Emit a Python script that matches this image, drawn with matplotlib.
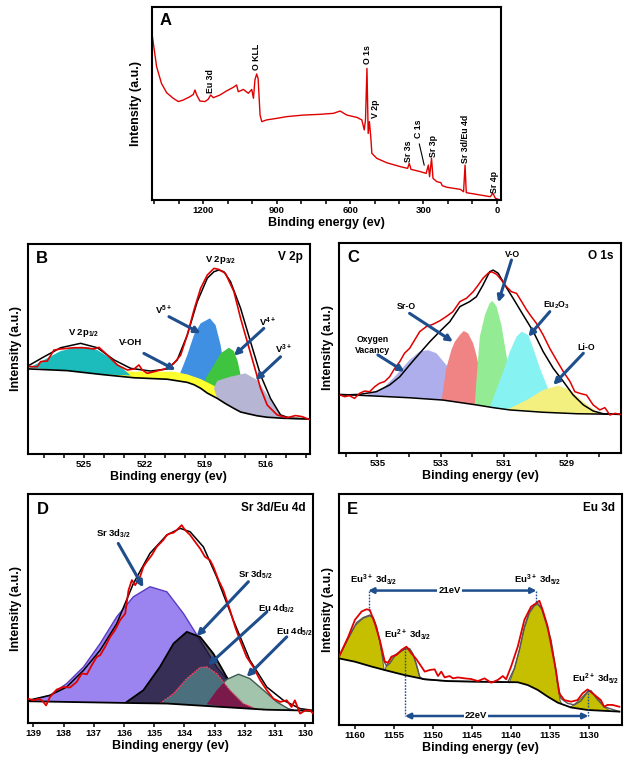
import matplotlib
matplotlib.use('Agg')
import matplotlib.pyplot as plt
from matplotlib.patches import Polygon
from matplotlib.ticker import FixedLocator, MultipleLocator, NullLocator

plt.rcParams.update({
    'font.family': ['Liberation Sans', 'DejaVu Sans'],
    'font.weight': 'bold',
    'axes.labelweight': 'bold',
    'mathtext.fontset': 'custom',
    'mathtext.rm': 'Liberation Sans:bold',
    'mathtext.it': 'Liberation Sans:bold',
    'mathtext.bf': 'Liberation Sans:bold',
    'mathtext.default': 'rm',
})

RED = '#e00000'
ARROW = '#1f4e8c'

# ---------------- Panel A: survey ----------------
survey_be = [1409, 1391, 1371, 1350, 1323, 1302, 1282, 1255, 1241, 1234, 1227, 1214, 1193, 1180,
             1170, 1159, 1132, 1104, 1077, 1064, 1057, 1036, 1016, 1002, 995, 989, 982, 976, 968,
             961, 941, 900, 859, 791, 722, 668, 641, 613, 572, 552, 542, 537, 531, 526, 521, 515,
             511, 491, 450, 395, 365, 358, 351, 313, 289, 280, 275, 267, 261, 245, 229, 223, 204,
             149, 136, 130, 125, 68, 27, 16, 6, -7]
survey_int = [85.5, 69.1, 60.4, 55.6, 52.7, 51.0, 51.8, 53.5, 54.7, 57.0, 54.4, 51.3, 51.0, 52.2,
              54.4, 53.0, 54.4, 56.6, 58.4, 59.6, 56.1, 57.3, 55.3, 57.3, 52.7, 62.2, 65.3, 63.0, 44.0,
              40.6, 41.5, 42.3, 43.2, 44.0, 44.4, 44.9, 46.1, 44.0, 42.8, 41.5, 36.3, 41.5, 68.2, 34.5,
              40.6, 32.0, 24.2, 21.6, 19.3, 17.3, 16.4, 19.0, 15.9, 14.7, 13.8, 18.1, 12.1, 21.6, 11.2,
              9.5, 9.0, 7.4, 6.6, 5.5, 4.3, 18.1, 3.8, 2.6, 1.7, 3.5, 0.9, 0.3]
survey_labels = ['Eu 3d', 'O KLL', 'O 1s', 'V 2p', 'Sr 3s', 'C 1s', 'Sr 3p', 'Sr 3d/Eu 4d', 'Sr 4p']
survey_label_be = [1170, 984, 530, 497, 361, 320, 259, 129, 10]
survey_label_int = [55.6, 67.4, 70.5, 42.3, 19.9, 32.0, 22.5, 19.0, 3.8]

# ---------------- Panel B: V 2p ----------------
B_bg_x = [527.69, 525.83, 524.17, 522.52, 520.87, 519.88, 519.55, 519.22, 518.89, 518.40, 517.99,
          517.57, 517.24, 516.75, 516.42, 515.92, 515.10, 513.78]
B_bg_y = [40.5, 39.7, 37.9, 36.3, 35.6, 34.1, 33.0, 31.3, 29.0, 26.5, 24.0, 21.7, 20.0, 18.9, 18.2,
          17.5, 17.0, 16.7]
B_cyan_x = [527.69, 526.98, 526.16, 525.5, 525.17, 524.8, 524.34, 523.68, 523.18, 522.69]
B_cyan_y = [41.1, 44.8, 49.0, 50.6, 51.1, 50.8, 49.5, 45.6, 41.6, 37.4]
B_blue_x = [520.38, 520.21, 519.88, 519.55, 519.22, 518.76, 518.48, 518.23, 518.07, 517.57]
B_blue_y = [35.4, 39.0, 47.1, 56.7, 62.2, 64.6, 61.4, 51.9, 42.4, 21.8]
B_green_x = [519.05, 518.98, 518.56, 518.23, 517.82, 517.57, 517.38, 517.24, 517.10, 516.91]
B_green_y = [29.9, 36.0, 42.4, 47.9, 50.6, 49.0, 44.0, 37.6, 30.0, 18.9]
B_yellow_x = [527.69, 525.83, 524.17, 522.52, 521.20, 520.54, 519.88, 519.22, 518.56, 518.23, 517.90]
B_yellow_y = [41.4, 40.8, 39.8, 39.2, 39.2, 39.2, 37.9, 35.7, 32.5, 31.0, 24.6]
B_lav_x = [518.56, 518.40, 517.74, 517.00, 516.42, 515.92, 515.43, 515.10, 514.77]
B_lav_y = [31.3, 34.8, 36.8, 38.4, 35.2, 28.1, 21.0, 17.8, 17.0]
B_env_x = [527.69, 526.98, 526.16, 525.17, 524.34, 523.51, 522.69, 521.70, 520.87, 520.38, 519.88,
           519.39, 518.89, 518.56, 518.32, 518.07, 517.74, 517.24, 516.75, 516.25, 515.76, 515.26,
           514.77, 513.78]
B_env_y = [42.4, 46.3, 50.6, 52.7, 50.6, 44.8, 40.8, 39.5, 40.5, 44.8, 56.7, 72.5, 83.7, 86.8, 87.6,
           86.8, 82.1, 69.4, 53.5, 37.6, 26.5, 18.6, 17.0, 16.7]
B_raw_x = [527.69, 527.31, 527.15, 526.82, 526.49, 526.16, 525.83, 525.50, 525.00, 524.50, 524.26,
           523.84, 523.35, 522.85, 522.52, 522.28, 522.11, 521.86, 521.53, 521.20, 520.87, 520.54,
           520.21, 519.88, 519.55, 519.22, 518.89, 518.56, 518.32, 517.99, 517.57, 517.24, 516.91,
           516.58, 516.25, 515.92, 515.43, 514.93, 514.52, 514.19, 513.78]
B_raw_y = [41.6, 41.6, 44.0, 44.3, 49.5, 50.0, 50.3, 50.6, 50.6, 50.0, 50.8, 47.1, 42.4, 40.0, 40.5,
           42.4, 40.0, 38.4, 39.2, 40.0, 40.8, 43.2, 47.1, 56.7, 68.6, 78.9, 85.2, 88.4, 87.9, 86.0,
           77.3, 64.6, 53.5, 42.4, 31.3, 23.3, 18.6, 17.3, 18.3, 17.8, 16.2]

# ---------------- Panel C: O 1s ----------------
C_bg_x = [536.17, 535.03, 533.98, 532.92, 531.87, 531.34, 530.81, 529.76, 528.70, 527.33]
C_bg_y = [27.9, 27.1, 26.3, 25.2, 22.9, 21.6, 20.5, 19.4, 18.7, 18.4]
C_raw_x = [536.17, 536.03, 535.88, 535.72, 535.56, 535.40, 535.24, 535.08, 534.93, 534.77, 534.61,
           534.45, 534.29, 534.14, 533.98, 533.82, 533.66, 533.45, 533.24, 533.03, 532.82, 532.61,
           532.39, 532.18, 531.97, 531.81, 531.66, 531.50, 531.39, 531.23, 531.08, 530.92, 530.76,
           530.60, 530.44, 530.28, 530.13, 529.97, 529.76, 529.55, 529.34, 529.12, 528.91, 528.76,
           528.60, 528.39, 528.18, 527.97, 527.81, 527.65, 527.49, 527.33]
C_raw_y = [27.6, 26.8, 27.3, 26.0, 28.4, 29.5, 29.2, 31.6, 33.2, 34.0, 36.3, 40.3, 43.5, 47.5, 49.8,
           53.8, 57.8, 60.2, 61.3, 62.9, 65.0, 67.3, 72.1, 73.7, 76.8, 80.0, 83.2, 85.6, 86.3, 85.1,
           82.4, 79.2, 76.8, 76.0, 72.1, 68.1, 64.9, 61.7, 56.2, 49.8, 44.3, 38.7, 34.0, 29.2, 28.4,
           27.6, 22.9, 20.5, 21.6, 18.1, 18.9, 18.4]
C_env_x = [536.17, 535.56, 535.03, 534.61, 534.29, 533.98, 533.66, 533.34, 533.03, 532.71, 532.39,
           532.08, 531.87, 531.66, 531.45, 531.34, 531.18, 530.97, 530.71, 530.39, 530.07, 529.76,
           529.44, 529.12, 528.81, 528.49, 528.18, 527.86, 527.33]
C_env_y = [27.6, 27.9, 29.2, 32.4, 36.3, 41.9, 47.5, 53.0, 57.8, 62.5, 69.7, 72.1, 74.4, 80.0, 86.3,
           87.1, 85.6, 80.0, 73.7, 65.7, 57.8, 48.3, 40.3, 34.0, 27.6, 22.9, 20.0, 18.7, 18.4]
C_lav_x = [535.35, 534.82, 534.40, 533.98, 533.66, 533.40, 533.13, 532.82, 532.39, 531.87, 531.45,
           531.13, 530.92]
C_lav_y = [27.6, 30.8, 37.1, 44.3, 48.3, 49.0, 47.5, 41.9, 35.6, 29.2, 25.2, 22.9, 21.0]
C_sal_x = [532.97, 532.82, 532.66, 532.55, 532.39, 532.27, 532.13, 531.97, 531.87, 531.76, 531.55,
           531.23, 530.81, 530.39]
C_sal_y = [25.0, 40.3, 49.0, 53.0, 56.2, 58.1, 57.0, 52.2, 46.7, 38.7, 30.8, 24.4, 21.3, 20.1]
C_grn_x = [531.92, 531.87, 531.76, 531.60, 531.45, 531.36, 531.23, 531.08, 530.92, 530.81, 530.71,
           530.50]
C_grn_y = [23.0, 34.0, 55.4, 65.7, 71.3, 72.4, 69.7, 61.0, 46.7, 37.1, 29.2, 20.3]
C_cyan_x = [531.45, 531.34, 531.02, 530.81, 530.60, 530.44, 530.23, 530.07, 529.86, 529.65, 529.44,
            529.23]
C_cyan_y = [22.0, 26.0, 38.7, 48.3, 55.4, 57.8, 56.2, 49.8, 40.3, 32.4, 24.4, 19.6]
C_yel_x = [530.90, 530.81, 530.28, 529.76, 529.28, 528.91, 528.49, 528.07, 527.86]
C_yel_y = [20.8, 21.3, 25.2, 30.0, 32.1, 30.0, 24.4, 19.7, 18.7]

# ---------------- Panel D: Sr 3d / Eu 4d ----------------
D_bg_x = [139.17, 137.90, 135.69, 134.58, 133.48, 132.38, 131.27, 130.17, 129.73]
D_bg_y = [9.5, 9.2, 8.7, 8.5, 7.6, 6.7, 5.8, 5.5, 5.2]
D_raw_x = [139.17, 139.00, 138.83, 138.72, 138.58, 138.45, 138.23, 138.01, 137.79, 137.57, 137.40,
           137.23, 137.07, 136.90, 136.79, 136.63, 136.46, 136.30, 136.13, 135.96, 135.85, 135.74,
           135.63, 135.47, 135.36, 135.25, 135.08, 134.92, 134.70, 134.58, 134.47, 134.36, 134.25,
           134.09, 133.98, 133.81, 133.65, 133.48, 133.32, 133.15, 133.04, 132.87, 132.71, 132.49,
           132.32, 132.16, 131.94, 131.72, 131.49, 131.27, 131.05, 130.83, 130.61, 130.45, 130.34,
           130.17, 130.00, 129.84, 129.73]
D_raw_y = [10.6, 9.9, 10.5, 9.9, 7.7, 11.4, 14.6, 15.7, 15.5, 17.9, 21.6, 21.3, 25.2, 28.9, 29.6,
           33.2, 37.6, 40.5, 44.9, 47.8, 58.0, 62.4, 60.2, 63.8, 68.2, 70.4, 73.3, 76.9, 79.9, 82.1,
           82.8, 83.1, 84.3, 86.4, 84.3, 82.1, 79.2, 76.2, 72.6, 71.1, 68.2, 62.4, 58.0, 49.3, 42.0,
           36.2, 28.9, 24.5, 18.7, 14.3, 10.6, 9.2, 9.9, 7.0, 9.9, 4.1, 5.5, 5.5, 4.1]
D_env_x = [139.17, 138.45, 137.90, 137.34, 136.79, 136.24, 135.69, 135.14, 134.58, 134.14, 133.81,
           133.37, 132.93, 132.38, 131.83, 131.27, 130.72, 130.17, 129.73]
D_env_y = [9.9, 12.1, 15.7, 23.0, 31.8, 43.4, 60.9, 74.1, 82.1, 85.0, 83.5, 76.9, 63.8, 44.9, 27.4,
           15.7, 9.9, 6.3, 5.5]
D_sr32_x = [139.17, 138.45, 137.90, 137.34, 136.79, 136.24, 135.69, 135.14, 134.58, 134.03, 133.48,
            132.93, 132.38, 131.83, 131.27, 130.72, 130.40]
D_sr32_y = [9.6, 12.1, 17.2, 24.5, 34.7, 46.4, 55.1, 59.5, 57.3, 47.8, 36.2, 24.5, 15.7, 10.6, 8.2,
            6.7, 5.7]
D_sr52_x = [135.91, 135.36, 134.81, 134.36, 133.92, 133.48, 133.04, 132.60, 132.16, 131.72, 131.38]
D_sr52_y = [9.2, 14.3, 24.5, 34.7, 39.8, 37.6, 30.3, 20.1, 11.4, 7.0, 6.0]
D_eu32_x = [134.81, 134.36, 133.92, 133.48, 133.26, 132.93, 132.49, 132.05, 131.60]
D_eu32_y = [8.5, 12.8, 19.4, 24.2, 24.5, 21.6, 14.3, 8.5, 6.0]
D_eu52_x = [133.26, 132.93, 132.60, 132.21, 131.83, 131.38, 130.94, 130.50]
D_eu52_y = [8.2, 14.3, 19.0, 21.3, 19.4, 14.3, 9.2, 5.8]

# ---------------- Panel E: Eu 3d ----------------
E_bg_x = [1162.13, 1160.00, 1157.87, 1155.74, 1153.62, 1151.06, 1148.09, 1145.11, 1139.15, 1137.87,
          1136.60, 1135.32, 1134.04, 1132.34, 1130.21, 1126.13]
E_bg_y = [28.9, 27.4, 25.3, 23.4, 21.6, 19.8, 19.0, 18.8, 18.5, 17.3, 15.2, 12.3, 9.7, 7.6, 6.5, 5.8]
E_raw_x = [1162.13, 1160.85, 1160.00, 1159.15, 1158.51, 1158.09, 1157.45, 1156.81, 1156.17, 1155.74,
           1155.32, 1154.68, 1154.04, 1153.40, 1152.77, 1152.13, 1151.49, 1151.06, 1150.43, 1149.79,
           1149.36, 1148.94, 1148.51, 1147.87, 1147.45, 1146.81, 1145.96, 1145.11, 1144.26, 1143.40,
           1142.55, 1141.70, 1141.06, 1140.64, 1140.00, 1139.15, 1138.30, 1137.45, 1136.81, 1136.38,
           1135.96, 1135.32, 1134.68, 1134.26, 1133.83, 1133.19, 1132.34, 1131.49, 1130.85, 1130.21,
           1129.57, 1128.51, 1128.09, 1127.66, 1127.02, 1126.13]
E_raw_y = [28.9, 38.2, 45.5, 49.1, 50.1, 49.8, 44.0, 36.8, 27.4, 27.0, 29.6, 30.3, 32.5, 33.9, 31.0,
           28.5, 25.3, 23.1, 23.8, 24.1, 21.2, 23.1, 20.6, 21.2, 20.2, 20.6, 20.2, 19.9, 19.0, 20.2,
           18.3, 19.5, 21.2, 19.8, 25.3, 33.9, 45.5, 51.2, 52.7, 53.8, 49.8, 42.6, 31.0, 23.8, 13.7,
           10.8, 10.1, 10.8, 13.7, 15.4, 13.7, 10.8, 7.9, 8.7, 8.7, 7.9]
E_env_x = [1162.13, 1160.85, 1159.79, 1158.94, 1158.09, 1157.66, 1157.23, 1156.81, 1156.38, 1155.96,
           1155.53, 1154.89, 1154.04, 1153.40, 1152.98, 1152.55, 1152.13, 1151.70, 1151.28, 1148.09,
           1145.11, 1140.43, 1139.57, 1138.94, 1138.30, 1137.66, 1137.02, 1136.60, 1136.09, 1135.53,
           1134.89, 1134.47, 1134.04, 1133.62, 1132.77, 1131.91, 1131.06, 1130.21, 1129.79, 1129.15,
           1128.09, 1126.81, 1126.13]
E_env_y = [28.9, 37.5, 44.3, 46.5, 47.6, 46.6, 42.6, 36.1, 28.4, 25.5, 26.7, 29.9, 32.0, 33.5, 33.0,
           30.7, 26.3, 20.9, 19.8, 19.0, 18.8, 18.5, 24.5, 32.5, 42.6, 49.1, 51.9, 52.7, 50.5, 44.7,
           36.8, 28.1, 18.0, 11.5, 9.4, 8.7, 10.4, 14.4, 14.9, 12.3, 7.9, 6.5, 5.8]
E_p1_x = [1162.13, 1161.06, 1160.00, 1158.94, 1158.09, 1157.66, 1157.23, 1156.81, 1156.47, 1156.26]
E_p1_y = [28.9, 36.1, 42.9, 46.2, 47.2, 46.2, 42.3, 36.1, 28.9, 23.8]
E_p2_x = [1156.17, 1155.74, 1155.11, 1154.26, 1153.40, 1152.98, 1152.55, 1152.13, 1151.70, 1151.49]
E_p2_y = [23.8, 27.4, 29.9, 31.7, 33.0, 32.8, 30.3, 26.0, 20.6, 20.1]
E_p3_x = [1140.21, 1139.57, 1138.94, 1138.30, 1137.66, 1137.02, 1136.60, 1136.09, 1135.53, 1134.89,
          1134.47, 1134.04, 1133.74, 1133.53]
E_p3_y = [18.3, 24.5, 32.5, 41.8, 48.3, 51.5, 52.2, 50.1, 44.0, 36.1, 27.4, 17.3, 10.8, 9.1]
E_p4_x = [1132.34, 1131.49, 1130.64, 1130.00, 1129.57, 1128.94, 1128.09, 1127.45]
E_p4_y = [7.8, 10.1, 13.0, 14.9, 13.7, 10.8, 7.9, 6.3]


def rect(l, t, r, b):
    return [l / 624, 1 - b / 760, (r - l) / 624, (b - t) / 760]


def setup(ax, xlim, majors, minor=None, ylabpad=4):
    ax.set_xlim(*xlim)
    ax.set_ylim(0, 100)
    ax.yaxis.set_major_locator(NullLocator())
    ax.xaxis.set_major_locator(FixedLocator(majors))
    if minor:
        ax.xaxis.set_minor_locator(MultipleLocator(minor))
    ax.tick_params(axis='x', which='both', direction='out', length=3, width=1.1,
                   pad=1.5, labelsize=6.8)
    for s in ax.spines.values():
        s.set_linewidth(1.5)
    ax.set_xlabel('Binding energy (ev)', fontsize=9, labelpad=1)
    ax.set_ylabel('Intensity (a.u.)', fontsize=9, labelpad=ylabpad)


def comp(ax, x, y, bx, by, fc, alpha=1.0, ec=None, lw=0.8, ls='-', z=2):
    lo, hi = min(x), max(x)
    pts = list(zip(x, y)) + [(a, b) for a, b in zip(bx[::-1], by[::-1]) if lo < a < hi]
    p = Polygon(pts, closed=True, facecolor=fc, edgecolor='none', alpha=alpha, zorder=z)
    ax.add_patch(p)
    if ec:
        ax.plot(x, y, color=ec, lw=lw, ls=ls, zorder=z + 0.1)
    return p, pts


def arrow(ax, frm, to):
    ax.annotate('', xy=to, xytext=frm,
                arrowprops=dict(arrowstyle='-|>', color=ARROW, lw=2.2, mutation_scale=9,
                                shrinkA=0, shrinkB=0), zorder=6)


def corner(ax, letter, title):
    ax.text(0.03, 0.965, letter, transform=ax.transAxes, fontsize=12, ha='left', va='top')
    ax.text(0.975, 0.965, title, transform=ax.transAxes, fontsize=8.5, ha='right', va='top')


fig = plt.figure(figsize=(6.24, 7.6), dpi=100)

# ---- A ----
axA = fig.add_axes(rect(151.7, 7, 501, 200))
axA.plot(survey_be, survey_int, color=RED, lw=1.0)
setup(axA, (1411, -17), [1200, 900, 600, 300, 0], 100, ylabpad=7)
for t, bx, by in zip(survey_labels, survey_label_be, survey_label_int):
    axA.text(bx, by, t, rotation=90, ha='center', va='bottom', fontsize=6.3)
axA.plot([317, 297], [29.0, 18.1], color='black', lw=0.8)
axA.text(0.023, 0.967, 'A', transform=axA.transAxes, fontsize=12, ha='left', va='top')

# ---- B ----
axB = fig.add_axes(rect(27.5, 244, 310, 454))
setup(axB, (527.8, 513.8), [525, 522, 519, 516], 1)
comp(axB, B_blue_x, B_blue_y, B_bg_x, B_bg_y, '#3f8fe3')
comp(axB, B_green_x, B_green_y, B_bg_x, B_bg_y, '#3ec43e')
comp(axB, B_yellow_x, B_yellow_y, B_bg_x, B_bg_y, '#ffff30')
comp(axB, B_lav_x, B_lav_y, B_bg_x, B_bg_y, '#b6b6d4')
comp(axB, B_cyan_x, B_cyan_y, B_bg_x, B_bg_y, '#1cbcbc')
axB.plot(B_bg_x, B_bg_y, color='black', lw=1.2, zorder=4)
axB.plot(B_env_x, B_env_y, color='black', lw=1.1, zorder=4)
axB.plot(B_raw_x, B_raw_y, color=RED, lw=1.2, zorder=5)
fsB = 6.8
axB.text(525.0, 57.6, 'V 2p$_{1/2}$', ha='center', va='center', fontsize=fsB)
axB.text(518.23, 92.5, 'V 2p$_{3/2}$', ha='center', va='center', fontsize=fsB)
axB.text(522.69, 52.9, 'V-OH', ha='center', va='center', fontsize=fsB)
arrow(axB, (522.03, 47.9), (520.46, 40.0))
axB.text(521.05, 68.5, 'V$^{5+}$', ha='center', va='center', fontsize=fsB)
arrow(axB, (520.79, 65.4), (519.22, 57.5))
axB.text(515.92, 62.5, 'V$^{4+}$', ha='center', va='center', fontsize=fsB)
arrow(axB, (516.09, 59.8), (517.57, 46.8))
axB.text(515.10, 50.0, 'V$^{3+}$', ha='center', va='center', fontsize=fsB)
arrow(axB, (515.26, 46.3), (516.5, 35.2))
corner(axB, 'B', 'V 2p')

# ---- C ----
axC = fig.add_axes(rect(339.3, 243, 621, 453))
setup(axC, (536.2, 527.3), [535, 533, 531, 529], 1, ylabpad=3.5)
comp(axC, C_lav_x, C_lav_y, C_bg_x, C_bg_y, '#aeaeec')
comp(axC, C_sal_x, C_sal_y, C_bg_x, C_bg_y, '#f08484')
comp(axC, C_grn_x, C_grn_y, C_bg_x, C_bg_y, '#93ec93')
comp(axC, C_cyan_x, C_cyan_y, C_bg_x, C_bg_y, '#86f2f2')
comp(axC, C_yel_x, C_yel_y, C_bg_x, C_bg_y, '#f4f080')
axC.plot(C_bg_x, C_bg_y, color='black', lw=1.1, zorder=4)
axC.plot(C_env_x, C_env_y, color='black', lw=1.1, zorder=4)
axC.plot(C_raw_x, C_raw_y, color=RED, lw=1.1, zorder=5)
fsC = 6.3
axC.text(535.14, 51.4, 'Oxygen\nVacancy', ha='center', va='center', fontsize=fsC, linespacing=1.2)
arrow(axC, (534.98, 46.7), (534.14, 38.7))
axC.text(534.08, 69.7, 'Sr-O', ha='center', va='center', fontsize=fsC)
arrow(axC, (533.98, 66.5), (532.61, 53.0))
axC.text(530.73, 94.6, 'V-O', ha='center', va='center', fontsize=fsC)
arrow(axC, (530.76, 91.9), (531.18, 71.7))
axC.text(529.34, 70.5, 'Eu$_2$O$_3$', ha='center', va='center', fontsize=fsC)
arrow(axC, (529.55, 67.3), (530.23, 55.4))
axC.text(528.39, 50.2, 'Li-O', ha='center', va='center', fontsize=fsC)
arrow(axC, (528.49, 47.5), (529.44, 32.4))
corner(axC, 'C', 'O 1s')

# ---- D ----
axD = fig.add_axes(rect(28, 494, 313, 723))
setup(axD, (139.18, 129.74), list(range(139, 129, -1)))
comp(axD, D_sr32_x, D_sr32_y, D_bg_x, D_bg_y, '#9b84f0', ec='#5a3cc0', lw=1.0)
comp(axD, D_sr52_x, D_sr52_y, D_bg_x, D_bg_y, 'black', alpha=0.64, ec='black', lw=1.3, z=2.2)
p52, _ = comp(axD, D_eu52_x, D_eu52_y, D_bg_x, D_bg_y, '#a3c4ac', ec='#3e5a50', lw=1.0, z=2.4)
p32, pts32 = comp(axD, D_eu32_x, D_eu32_y, D_bg_x, D_bg_y, '#4b6f7c', z=2.6)
mar = Polygon(pts32, closed=True, facecolor='#7a1a4a', edgecolor='none', zorder=2.7)
axD.add_patch(mar)
mar.set_clip_path(p52)
axD.plot(D_eu32_x, D_eu32_y, color='#ff4060', lw=0.9, ls=(0, (1.5, 0.8)), zorder=2.8)
axD.plot(D_bg_x, D_bg_y, color='black', lw=1.3, zorder=4)
axD.plot(D_env_x, D_env_y, color='black', lw=1.1, zorder=4)
axD.plot(D_raw_x, D_raw_y, color=RED, lw=1.3, zorder=5)
fsD = 6.8
axD.text(136.35, 82.8, 'Sr 3d$_{3/2}$', ha='center', va='center', fontsize=fsD)
arrow(axD, (136.19, 78.4), (135.36, 59.2))
axD.text(131.66, 64.6, 'Sr 3d$_{5/2}$', ha='center', va='center', fontsize=fsD)
arrow(axD, (131.88, 61.7), (133.59, 37.9))
axD.text(130.94, 50.0, 'Eu 4d$_{3/2}$', ha='center', va='center', fontsize=fsD)
arrow(axD, (131.27, 48.5), (133.21, 25.2))
axD.text(130.34, 39.8, 'Eu 4d$_{5/2}$', ha='center', va='center', fontsize=fsD)
arrow(axD, (130.61, 37.6), (131.94, 20.1))
corner(axD, 'D', 'Sr 3d/Eu 4d')

# ---- E ----
axE = fig.add_axes(rect(338.5, 494, 622, 725))
setup(axE, (1162.1, 1125.8), [1160, 1155, 1150, 1145, 1140, 1135, 1130], ylabpad=3.5)
for xs, ys in [(E_p1_x, E_p1_y), (E_p2_x, E_p2_y), (E_p3_x, E_p3_y), (E_p4_x, E_p4_y)]:
    comp(axE, xs, ys, E_bg_x, E_bg_y, '#c6bf00', ec='#6a6a50', lw=0.8)
axE.plot(E_env_x, E_env_y, color='#555555', lw=1.0, zorder=4)
axE.plot(E_bg_x, E_bg_y, color='black', lw=1.3, zorder=4)
axE.plot(E_raw_x, E_raw_y, color=RED, lw=1.3, zorder=5)
fsE = 6.8
axE.text(1157.66, 63.1, 'Eu$^{3+}$ 3d$_{3/2}$', ha='center', va='center', fontsize=fsE)
axE.text(1136.6, 63.1, 'Eu$^{3+}$ 3d$_{5/2}$', ha='center', va='center', fontsize=fsE)
axE.text(1153.19, 39.0, 'Eu$^{2+}$ 3d$_{3/2}$', ha='center', va='center', fontsize=fsE)
axE.text(1129.15, 20.0, 'Eu$^{2+}$ 3d$_{5/2}$', ha='center', va='center', fontsize=fsE)
dot = dict(color=ARROW, lw=1.0, ls=(0, (1.2, 1.0)), zorder=6)
axE.plot([1158.2, 1158.2], [58.2, 49.1], **dot)
axE.plot([1136.75, 1136.75], [58.2, 52.7], **dot)
axE.plot([1153.6, 1153.6], [33.2, 3.9], **dot)
axE.plot([1130.1, 1130.1], [15.0, 3.9], **dot)
dbl = dict(arrowstyle='<|-|>', color=ARROW, lw=1.8, mutation_scale=8, shrinkA=0, shrinkB=0)
axE.annotate('', xy=(1136.75, 58.2), xytext=(1158.3, 58.2), arrowprops=dbl, zorder=6)
axE.annotate('', xy=(1130.1, 3.9), xytext=(1153.6, 3.9), arrowprops=dbl, zorder=6)
bb = dict(boxstyle='square,pad=0.1', fc='white', ec='none')
axE.text(1147.9, 58.2, '21eV', ha='center', va='center', fontsize=fsE, bbox=bb, zorder=7)
axE.text(1144.5, 3.9, '22eV', ha='center', va='center', fontsize=fsE, bbox=bb, zorder=7)
corner(axE, 'E', 'Eu 3d')

fig.savefig('out.png', dpi=100)
